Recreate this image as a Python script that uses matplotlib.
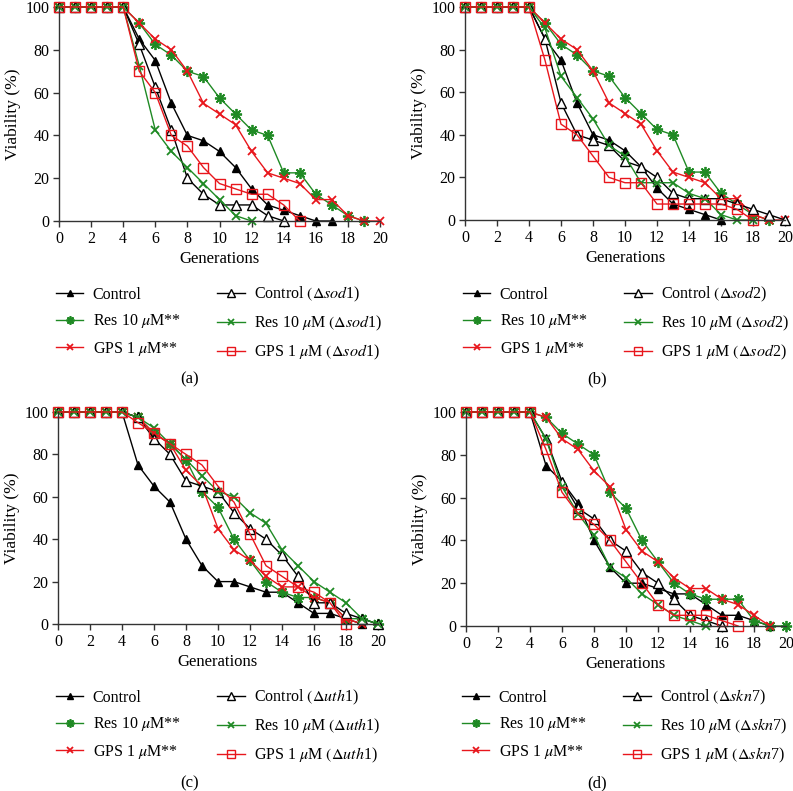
import matplotlib
matplotlib.use("Agg")
import matplotlib.pyplot as plt
import numpy as np

plt.rcParams['font.family'] = ['Liberation Serif', 'DejaVu Serif']
plt.rcParams['mathtext.fontset'] = 'stix'

gens = list(range(0, 21))

# ---- Panel (a) ----
a_control = [100]*5 + [85, 75, 55, 40, 37.5, 32.5, 25, 15, 7.5, 5, 2.5, 0, 0]
a_res = [100]*5 + [92.5, 82.5, 77.5, 70, 67.5, 57.5, 50, 42.5, 40, 22.5, 22.5, 12.5, 7.5, 2.5, 0]
a_gps = [100]*5 + [92.5, 85, 80, 70, 55, 50, 45, 32.5, 22.5, 20, 17.5, 10, 10, 2.5, 0, 0]
a_control_mut = [100]*5 + [82.5, 62.5, 42.5, 20, 12.5, 7.5, 7.5, 7.5, 2.5, 0]
a_res_mut = [100]*5 + [72.5, 42.5, 32.5, 25, 17.5, 10, 2.5, 0]
a_gps_mut = [100]*5 + [70, 60, 40, 35, 25, 17.5, 15, 12.5, 12.5, 7.5, 0]

# ---- Panel (b) ----
b_control = [100]*5 + [85, 75, 55, 40, 37.5, 32.5, 25, 15, 7.5, 5, 2.5, 0]
b_res = [100]*5 + [92.5, 82.5, 77.5, 70, 67.5, 57.5, 50, 42.5, 40, 22.5, 22.5, 12.5, 7.5, 2.5, 0]
b_gps = [100]*5 + [92.5, 85, 80, 70, 55, 50, 45, 32.5, 22.5, 20, 17.5, 10, 10, 2.5, 0, 0]
b_control_mut = [100]*5 + [85, 55, 40, 37.5, 35, 27.5, 25, 20, 12.5, 10, 10, 10, 7.5, 5, 2.5, 0]
b_res_mut = [100]*5 + [90, 67.5, 57.5, 47.5, 35, 30, 17.5, 17.5, 17.5, 12.5, 10, 2.5, 0, 0]
b_gps_mut = [100]*5 + [75, 45, 40, 30, 20, 17.5, 17.5, 7.5, 7.5, 7.5, 7.5, 7.5, 5, 0]

# ---- Panel (c) ----
c_control = [100]*5 + [75, 65, 57.5, 40, 27.5, 20, 20, 17.5, 15, 15, 10, 5, 5, 2.5, 0]
c_res = [100]*5 + [97.5, 90, 85, 77.5, 62.5, 55, 40, 30, 20, 15, 12.5, 12.5, 10, 2.5, 2.5, 0]
c_gps = [100]*5 + [97.5, 90, 85, 72.5, 65, 45, 35, 30, 22.5, 17.5, 17.5, 12.5, 10, 2.5, 0]
c_control_mut = [100]*5 + [97.5, 87.5, 80, 67.5, 65, 62.5, 52.5, 45, 40, 32.5, 22.5, 10, 10, 5, 2.5, 0]
c_res_mut = [100]*5 + [97.5, 92.5, 85, 77.5, 70, 62.5, 60, 52.5, 47.5, 35, 27.5, 20, 15, 10, 2.5, 0]
c_gps_mut = [100]*5 + [95, 90, 85, 80, 75, 65, 57.5, 42.5, 27.5, 22.5, 17.5, 15, 10, 0]

# ---- Panel (d) ----
d_control = [100]*5 + [75, 67.5, 57.5, 40, 27.5, 20, 20, 17.5, 15, 15, 10, 5, 5, 2.5, 0]
d_res = [100]*5 + [97.5, 90, 85, 80, 62.5, 55, 40, 30, 20, 15, 12.5, 12.5, 12.5, 2.5, 0, 0]
d_gps = [100]*5 + [97.5, 87.5, 82.5, 72.5, 65, 45, 35, 30, 22.5, 17.5, 17.5, 12.5, 10, 5, 0]
d_control_mut = [100]*5 + [87.5, 67.5, 55, 50, 40, 35, 25, 20, 12.5, 5, 2.5, 0]
d_res_mut = [100]*5 + [87.5, 65, 52.5, 42.5, 27.5, 22.5, 15, 10, 5, 2.5, 0]
d_gps_mut = [100]*5 + [82.5, 62.5, 52.5, 47.5, 40, 30, 20, 10, 5, 5, 5, 2.5, 0]

panels = [
    ("a", "sod", "1", a_control, a_res, a_gps, a_control_mut, a_res_mut, a_gps_mut),
    ("b", "sod", "2", b_control, b_res, b_gps, b_control_mut, b_res_mut, b_gps_mut),
    ("c", "uth", "1", c_control, c_res, c_gps, c_control_mut, c_res_mut, c_gps_mut),
    ("d", "skn", "7", d_control, d_res, d_gps, d_control_mut, d_res_mut, d_gps_mut),
]

W, H = 793, 791
fig = plt.figure(figsize=(W/100, H/100), dpi=100)

# axes rectangles in pixels: left, right, top, bottom
rects = [(59, 380, 7, 221), (465, 785, 7, 220), (58, 378, 412, 624), (466, 786, 412, 626)]
legend_pos = [(56, 285), (463, 285), (56, 688), (462, 688)]
caption_pos = [(190, 379), (597, 379), (190, 783), (597, 783)]

GREEN = '#1f8a24'
RED = '#e8161c'
ASTER = (8, 2, 0)

for (tag, gene, num, ctl, res, gps, ctlm, resm, gpsm), (l, r, t, b), lp, cp in zip(panels, rects, legend_pos, caption_pos):
    ax = fig.add_axes([l/W, 1-b/H, (r-l)/W, (b-t)/H])
    def x(v):
        return gens[:len(v)]
    mut = r"$(\Delta\mathit{" + gene + r"}$" + num + ")"
    kw = dict(lw=1.0, clip_on=False)
    ax.plot(x(ctl), ctl, color='black', marker='^', ms=6, mfc='black', mec='black', label='Control', **kw)
    ax.plot(x(res), res, color=GREEN, marker=ASTER, ms=8, mec=GREEN, mew=1.3, label=r'Res 10 $\mu$M**', **kw)
    ax.plot(x(gps), gps, color=RED, marker='x', ms=6, mec=RED, mew=1.3, label=r'GPS 1 $\mu$M**', **kw)
    ax.plot(x(ctlm), ctlm, color='black', marker='^', ms=7, mfc='white', mec='black', mew=1.0,
            label='Control ' + mut, **kw)
    ax.plot(x(resm), resm, color=GREEN, marker='x', ms=6, mec=GREEN, mew=1.3,
            label=r'Res 10 $\mu$M ' + mut, **kw)
    ax.plot(x(gpsm), gpsm, color=RED, marker='s', ms=7, mfc='none', mec=RED, mew=1.0,
            label=r'GPS 1 $\mu$M ' + mut, **kw)
    ax.set_xlim(0, 20)
    ax.set_ylim(0, 100)
    ax.set_xticks(range(0, 21, 2))
    ax.set_yticks(range(0, 101, 20))
    for s in ['top', 'right']:
        ax.spines[s].set_visible(False)
    for s in ['left', 'bottom']:
        ax.spines[s].set_color('#333333')
        ax.spines[s].set_linewidth(1.0)
    ax.tick_params(direction='out', length=4, width=1.0, labelsize=11.5, color='#333333', pad=3)
    ax.set_xlabel('Generations', fontsize=12, labelpad=3)
    ax.set_ylabel('Viability (%)', fontsize=12.5, labelpad=3)
    ax.legend(loc='upper left', bbox_to_anchor=(lp[0]/W, 1-lp[1]/H), bbox_transform=fig.transFigure,
              ncol=2, frameon=False, fontsize=11.5, borderpad=0, borderaxespad=0, markerscale=0.75,
              handlelength=1.7, handletextpad=0.6, columnspacing=2.3, labelspacing=0.6)
    fig.text(cp[0]/W, 1-cp[1]/H, f'({tag})', ha='center', va='center', fontsize=12)

fig.savefig('out.png', dpi=100)
